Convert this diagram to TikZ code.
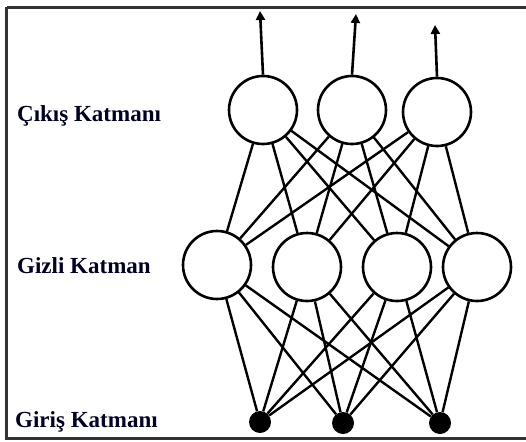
\documentclass[tikz,border=0pt]{standalone}
\usepackage{fontspec}
\setmainfont{Liberation Serif}
\usetikzlibrary{arrows.meta}
\begin{document}
\begin{tikzpicture}[x=1pt,y=-1pt,
  neuron/.style={circle,draw,line width=2.6pt,minimum size=68pt,inner sep=0pt},
  inp/.style={circle,fill=black,minimum size=22pt,inner sep=0pt},
  conn/.style={line width=2.4pt},
  outarrow/.style={line width=2.6pt,-{Triangle[length=9pt,width=9pt]}},
  lbl/.style={font=\bfseries\fontsize{23}{26}\selectfont,anchor=west,text=black!85!blue,inner sep=0pt}]
\useasboundingbox (0,0) rectangle (526,441);
\draw[line width=2.6pt,black!80] (6.5,7.5) -- (540,7.5);
\draw[line width=2.6pt,black!80] (6.5,7.5) -- (6.5,438.5) -- (540,438.5);
% output layer
\node[neuron] (o1) at (263,110) {};
\node[neuron] (o2) at (352,110) {};
\node[neuron] (o3) at (437,112) {};
% hidden layer
\node[neuron] (h1) at (217,265) {};
\node[neuron] (h2) at (307,267) {};
\node[neuron] (h3) at (397,267) {};
\node[neuron] (h4) at (477,267) {};
% input layer
\node[inp] (i1) at (260,422) {};
\node[inp] (i2) at (343,423) {};
\node[inp] (i3) at (440,423) {};
% output arrows
\coordinate (a1) at (260,11);
\coordinate (a2) at (356,14);
\coordinate (a3) at (435,25);
\draw[outarrow] (o1.north) -- (a1);
\draw[outarrow] (o2.north) -- (a2);
\draw[outarrow] (o3.north) -- (a3);
% connections
\foreach \h in {h1,h2,h3,h4}{
  \foreach \o in {o1,o2,o3}{\draw[conn] (\h) -- (\o);}
  \foreach \i in {i1,i2,i3}{\draw[conn] (\i) -- (\h);}
}
% labels
\node[lbl] (l1) at (17,116) {Çıkış Katmanı};
\node[lbl] (l2) at (17,266) {Gizli Katman};
\node[lbl] (l3) at (15,422) {Giriş Katmanı};
\end{tikzpicture}
\end{document}
